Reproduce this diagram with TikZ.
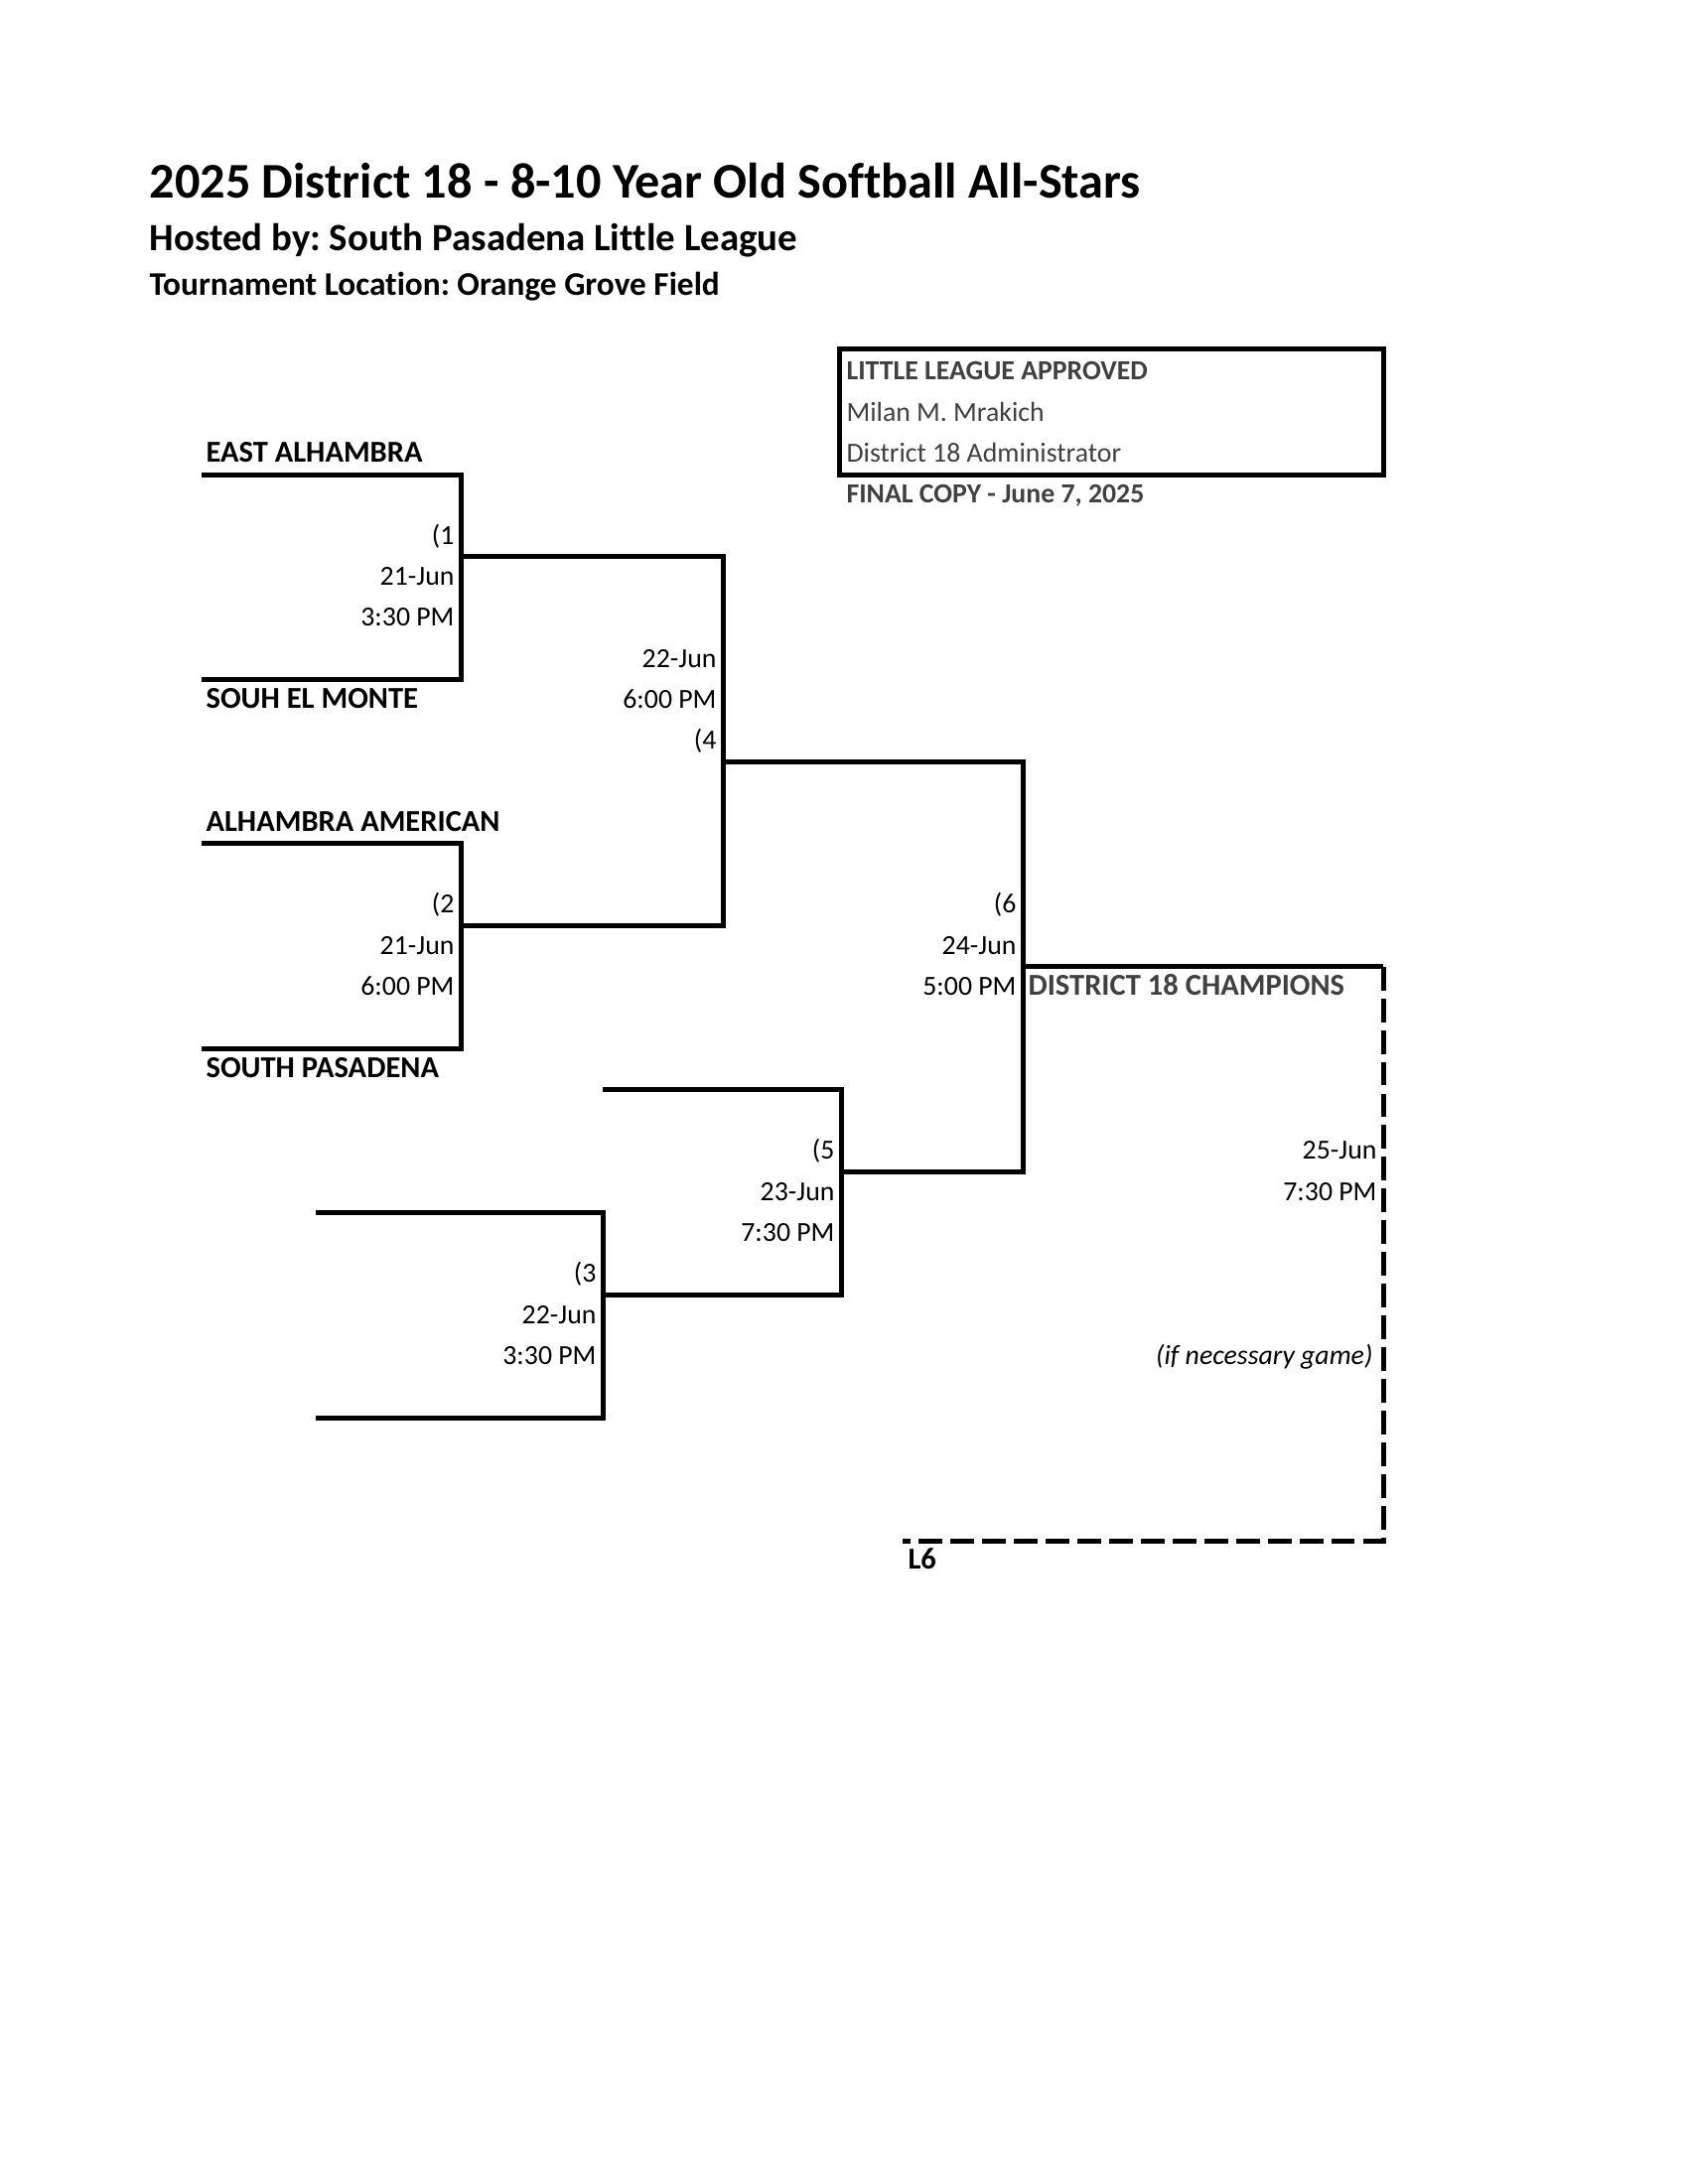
\documentclass[tikz,border=0pt]{standalone}
\usepackage{fontspec}
\setmainfont{Carlito}[Ligatures={NoCommon}]
\usetikzlibrary{positioning}
\definecolor{notegray}{HTML}{404040}
\frenchspacing

\tikzset{
  bline/.style={line width=1.8bp, line join=miter},
  dline/.style={line width=1.8bp, line join=miter, dash pattern=on 8.6bp off 2.9bp},
  txt/.style={inner sep=0pt, font=\fontsize{10bp}{12bp}\selectfont},
  team/.style={txt, anchor=base west, font=\fontsize{11bp}{13bp}\selectfont\bfseries},
  info/.style={txt, anchor=base east},
  note/.style={txt, anchor=base west, text=notegray},
  notebf/.style={note, font=\fontsize{10bp}{12bp}\selectfont\bfseries},
  head/.style={inner sep=0pt, anchor=base west, font=\bfseries}
}

\begin{document}
\begin{tikzpicture}[x=0.36bp, y=-0.36bp]
    \useasboundingbox (0,0) rectangle (1700,2200);
    % Kopf
    \node[head, font=\fontsize{18.1bp}{21bp}\selectfont\bfseries] (title) at (150,199) {2025 District 18 - 8-10 Year Old Softball All-Stars};
    \node[head, font=\fontsize{14bp}{17bp}\selectfont\bfseries] (host) at (150,252) {Hosted by: South Pasadena Little League};
    \node[head, font=\fontsize{12bp}{15bp}\selectfont\bfseries] (place) at (150,297) {Tournament Location: Orange Grove Field};

    % Genehmigung
    \draw[bline] (845,351) rectangle (1393,478);
    \node[notebf] (approved) at (852,382.9) {LITTLE LEAGUE APPROVED};
    \node[note] (admin) at (852,424.2) {Milan M. Mrakich};
    \node[note] (role) at (852,465.5) {District 18 Administrator};
    \node[notebf] (final) at (852,506.8) {FINAL COPY - June 7, 2025};

    % Spiel 1 und 2
    \draw[bline] (203,478) -| (464,684.5) -- (203,684.5);
    \draw[bline] (203,849.8) -| (464,1056.3) -- (203,1056.3);
    \node[team] (east) at (207,465.5) {EAST ALHAMBRA};
    \node[team] (elmonte) at (207,713.3) {SOUH EL MONTE};
    \node[team] (american) at (207,837.3) {ALHAMBRA AMERICAN};
    \node[team] (pasadena) at (207,1085.2) {SOUTH PASADENA};
    \node[info] (g1) at (458,548.1) {(1};
    \node[info] (g1d) at (458,589.4) {21-Jun};
    \node[info] (g1t) at (458,630.7) {3:30 PM};
    \node[info] (g2) at (458,919.9) {(2};
    \node[info] (g2d) at (458,961.2) {21-Jun};
    \node[info] (g2t) at (458,1002.5) {6:00 PM};

    % Spiel 4
    \draw[bline] (464,560.6) -| (728,932.4) -- (464,932.4);
    \node[info] (g4d) at (722,672) {22-Jun};
    \node[info] (g4t) at (722,713.3) {6:00 PM};
    \node[info] (g4) at (722,754.7) {(4};

    % Spiel 3 und 5
    \draw[bline] (318,1221.6) -| (607,1428.1) -- (318,1428.1);
    \draw[bline] (607,1097.7) -| (847,1304.2) -- (607,1304.2);
    \node[info] (g3) at (601,1291.7) {(3};
    \node[info] (g3d) at (601,1333) {22-Jun};
    \node[info] (g3t) at (601,1374.3) {3:30 PM};
    \node[info] (g5) at (841,1167.8) {(5};
    \node[info] (g5d) at (841,1209.1) {23-Jun};
    \node[info] (g5t) at (841,1250.4) {7:30 PM};

    % Spiel 6
    \draw[bline] (728,767.2) -| (1030,1180.3) -- (847,1180.3);
    \draw[bline] (1030,973.7) -- (1393,973.7);
    \node[info] (g6) at (1024,919.9) {(6};
    \node[info] (g6d) at (1024,961.2) {24-Jun};
    \node[info] (g6t) at (1024,1002.5) {5:00 PM};
    \node[notebf, font=\fontsize{11bp}{13bp}\selectfont\bfseries] (champ) at (1035,1002.5) {DISTRICT 18 CHAMPIONS};

    % Spiel 7 (falls noetig)
    \draw[dline] (1393,973.7) -- (1393,1552.1) -- (909,1552.1);
    \node[info] (g7d) at (1387,1167.8) {25-Jun};
    \node[info] (g7t) at (1387,1209.1) {7:30 PM};
    \node[info, font=\fontsize{10bp}{12bp}\selectfont\itshape] (ifnec) at (1383,1374.3) {(if necessary game)};
    \node[team] (loser) at (914,1580.9) {L6};
\end{tikzpicture}
\end{document}
